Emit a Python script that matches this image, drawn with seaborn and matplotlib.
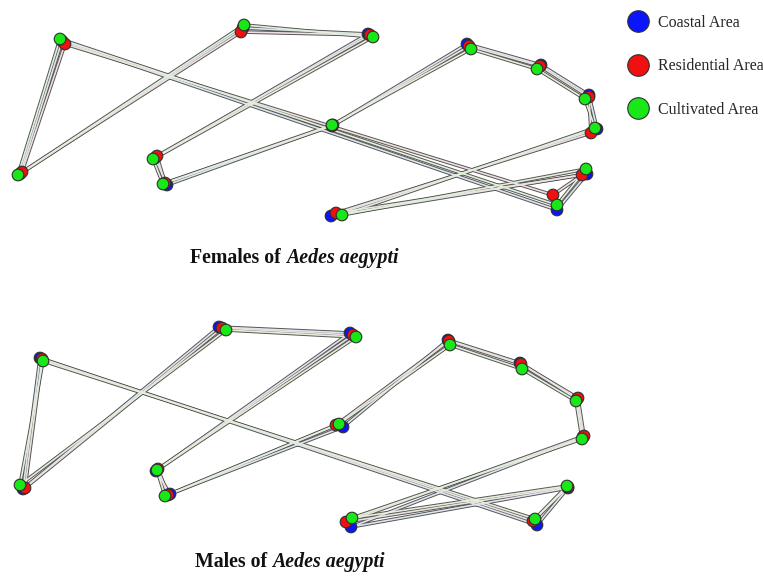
import numpy as np
import pandas as pd
import matplotlib
matplotlib.use("Agg")
import matplotlib.pyplot as plt
from matplotlib.lines import Line2D
import seaborn as sns

# ---------------- data (landmark configurations, image-like coords, y down) ----------------
areas = ["Coastal Area", "Residential Area", "Cultivated Area"]
landmarks = list(range(1, 15))

# Females of Aedes aegypti
fem_coastal_x = [62, 20, 243, 368, 155, 167, 333, 467, 541, 589, 597, 331, 587, 557]
fem_coastal_y = [41, 174, 28, 34, 158, 185, 125, 44, 65, 95, 129, 216, 174, 210]
fem_resid_x = [65, 22, 241, 370, 157, 165, 332, 469, 540, 589, 591, 336, 582, 553]
fem_resid_y = [44, 172, 32, 35, 156, 183, 126, 46, 66, 97, 133, 213, 175, 195]
fem_cult_x = [60, 18, 244, 373, 153, 163, 332, 471, 537, 585, 595, 342, 586, 557]
fem_cult_y = [39, 175, 25, 37, 159, 184, 125, 49, 69, 99, 128, 215, 169, 205]

# Males of Aedes aegypti
male_coastal_x = [40, 23, 219, 350, 156, 170, 343, 448, 520, 577, 583, 351, 568, 537]
male_coastal_y = [358, 489, 327, 333, 471, 494, 427, 340, 363, 399, 437, 527, 488, 525]
male_resid_x = [42, 25, 222, 353, 158, 168, 336, 449, 521, 578, 584, 346, 568, 533]
male_resid_y = [359, 488, 328, 335, 469, 495, 425, 341, 364, 398, 436, 522, 487, 521]
male_cult_x = [43, 20, 226, 356, 157, 165, 339, 450, 522, 576, 582, 352, 567, 535]
male_cult_y = [361, 485, 330, 337, 470, 496, 424, 345, 369, 401, 439, 518, 486, 519]

panel_titles = ["Females of ", "Males of "]
species = "Aedes aegypti"

palette = {"Coastal Area": "#0a14ff", "Residential Area": "#f01010", "Cultivated Area": "#18e818"}
line_tint = {"Coastal Area": "#dde6ee", "Residential Area": "#efe0e0", "Cultivated Area": "#e2f0da"}


def make_df(xs_list, ys_list):
    frames = []
    for area, xs, ys in zip(areas, xs_list, ys_list):
        frames.append(pd.DataFrame({"landmark": landmarks, "x": xs, "y": ys, "area": area}))
    return pd.concat(frames, ignore_index=True)


fem_df = make_df([fem_coastal_x, fem_resid_x, fem_cult_x], [fem_coastal_y, fem_resid_y, fem_cult_y])
male_df = make_df([male_coastal_x, male_resid_x, male_cult_x], [male_coastal_y, male_resid_y, male_cult_y])

# ---------------- figure ----------------
sns.set_theme(style="white")
plt.rcParams["font.family"] = ["Liberation Serif", "DejaVu Serif"]

W, H = 763, 576
fig = plt.figure(figsize=(W / 100, H / 100), dpi=100)
fig.patch.set_facecolor("white")

ax_f = fig.add_axes([0, (H - 240) / H, 1, 240 / H])
ax_m = fig.add_axes([0, 0, 1, 276 / H])


def draw_panel(ax, df, ylim):
    for area in areas:
        sub = df[df["area"] == area].sort_values("landmark")
        xs = list(sub["x"]) + [sub["x"].iloc[0]]
        ys = list(sub["y"]) + [sub["y"].iloc[0]]
        ax.plot(xs, ys, color="#555555", lw=2.6, zorder=1, solid_capstyle="round")
        ax.plot(xs, ys, color=line_tint[area], lw=1.2, zorder=2, solid_capstyle="round")
    sns.scatterplot(data=df, x="x", y="y", hue="area", hue_order=areas, palette=palette,
                    s=70, edgecolor="#303030", linewidth=0.8, legend=False, ax=ax, zorder=3)
    ax.set_xlim(0, W)
    ax.set_ylim(*ylim)
    ax.axis("off")


draw_panel(ax_f, fem_df, (240, 0))
draw_panel(ax_m, male_df, (576, 300))

# legend
handles = [Line2D([0], [0], marker="o", linestyle="none", markersize=15.5,
                  markerfacecolor=palette[a], markeredgecolor="#303030", markeredgewidth=0.8)
           for a in areas]
fig.legend(handles, areas, loc="upper left", bbox_to_anchor=(628 / W, 1 - 15 / H),
           frameon=False, prop={"family": "Liberation Serif", "size": 11.5},
           handlelength=1.2, handletextpad=0.7, labelspacing=1.72,
           borderpad=0, borderaxespad=0)

# panel captions: bold + bold italic
renderer = fig.canvas.get_renderer()
for title, (x0, base) in zip(panel_titles, [(190, 263), (195, 567)]):
    t = fig.text(x0 / W, 1 - base / H, title, fontsize=14.3, fontweight="bold",
                 va="baseline", ha="left", color="#111111")
    bb = t.get_window_extent(renderer)
    fig.text(bb.x1 / W, 1 - base / H, species, fontsize=14.3, fontweight="bold",
             fontstyle="italic", va="baseline", ha="left", color="#111111")

fig.savefig("out.png", dpi=100, facecolor="white")
